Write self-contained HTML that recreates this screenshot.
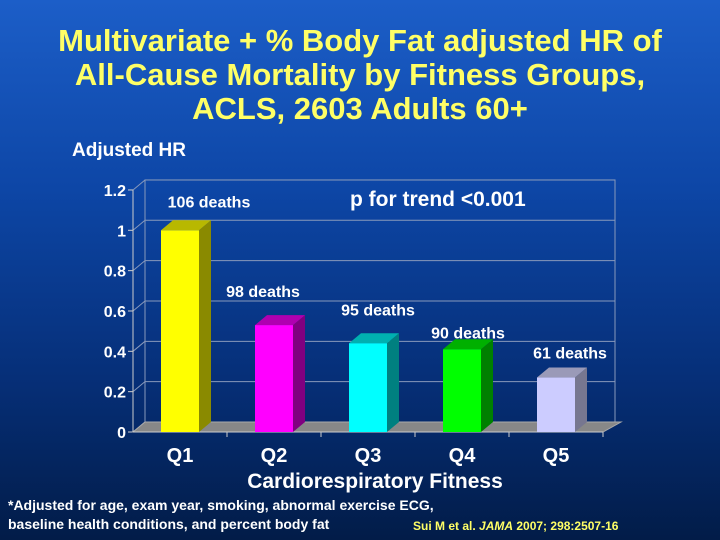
<!DOCTYPE html>
<html><head><meta charset="utf-8"><style>
html,body{margin:0;padding:0}
body{width:720px;height:540px;overflow:hidden;background:linear-gradient(to bottom,#1c5ec8 0%,#0d46a6 35%,#062f78 70%,#021c48 100%);font-family:"Liberation Sans",sans-serif;position:relative}
.t{position:absolute;left:0;width:720px;text-align:center;color:#ffff66;font-weight:bold;font-size:31px;line-height:34px;top:24px}
</style></head><body>
<div class="t">Multivariate + % Body Fat adjusted HR of<br>All-Cause Mortality by Fitness Groups,<br>ACLS, 2603 Adults 60+</div>
<svg width="720" height="540" style="position:absolute;left:0;top:0">
<g id="g"></g>
<text x="72" y="156" fill="#fff" font-size="19" font-weight="bold" font-family="Liberation Sans">Adjusted HR</text>
<text x="350" y="206" fill="#fff" font-size="21" font-weight="bold" font-family="Liberation Sans">p for trend &lt;0.001</text>
<text x="375" y="488" fill="#fff" font-size="21" font-weight="bold" text-anchor="middle" font-family="Liberation Sans">Cardiorespiratory Fitness</text>
<text x="8" y="510" fill="#fff" font-size="14" font-weight="bold" font-family="Liberation Sans">*Adjusted for age, exam year, smoking, abnormal exercise ECG,</text>
<text x="8" y="529" fill="#fff" font-size="14" font-weight="bold" font-family="Liberation Sans">baseline health conditions,  and percent body fat</text>
<text x="413" y="530" fill="#ffff66" font-size="12" font-weight="bold" font-family="Liberation Sans">Sui M et al.  <tspan font-style="italic">JAMA</tspan> 2007; 298:2507-16</text>
</svg>
<script>
const categories=["Q1","Q2","Q3","Q4","Q5"];
const values=[1.0,0.53,0.44,0.41,0.27];
const deathLabels=["106 deaths","98 deaths","95 deaths","90 deaths","61 deaths"];
const ticks=[0,0.2,0.4,0.6,0.8,1,1.2];
const tickLabels=["0","0.2","0.4","0.6","0.8","1","1.2"];
const colors=[["#ffff00","#b8b800","#8a8a00"],["#ff00ff","#b000b0","#800080"],["#00ffff","#00b0b0","#008080"],["#00ff00","#00b000","#008000"],["#ccccff","#9a9ab8","#777790"]];
// layout: label offsets from bar centre / top (pixels)
const labelDX=[29,-11,10,6,14], labelDY=[-29,-34,-34,-17,-25];
const NS="http://www.w3.org/2000/svg",g=document.getElementById('g');
const x0=133,x1=603,y0=432,ppu=201.7,dx=12,dy=10;
const y=v=>y0-v*ppu, band=(x1-x0)/categories.length, cx=i=>x0+band*(i+0.5);
function el(t,a){const e=document.createElementNS(NS,t);for(const k in a)e.setAttribute(k,a[k]);g.appendChild(e);return e;}
let w=el('rect',{x:x0+dx,y:y(1.2)-dy,width:x1-x0,height:1.2*ppu,fill:"none",stroke:"#8899bb","stroke-width":1});

ticks.forEach((t,i)=>{
 let l=el('line',{x1:x0+dx,x2:x1+dx,y1:y(t)-dy,y2:y(t)-dy,stroke:"#8899bb","stroke-width":1});
 
 let d=el('line',{x1:x0,x2:x0+dx,y1:y(t),y2:y(t)-dy,stroke:"#8899bb","stroke-width":1});
 
 let tk=el('line',{x1:x0-5,x2:x0,y1:y(t),y2:y(t),stroke:"#ccc"});
 
 let tx=el('text',{x:x0-7,y:y(t)+6,fill:"#fff","font-size":16,"font-weight":"bold","text-anchor":"end","font-family":"Liberation Sans"});
 tx.textContent=tickLabels[i];
});
let fl=el('polygon',{points:`${x0},${y0} ${x1},${y0} ${x1+dx+6},${y0-dy} ${x0+dx},${y0-dy}`,fill:"#888",stroke:"#aaa"});

let ya=el('line',{x1:x0,x2:x0,y1:y(1.2),y2:y0,stroke:"#ccc"});
let xa=el('line',{x1:x0,x2:x1,y1:y0,y2:y0,stroke:"#ccc"});
categories.forEach((c,i)=>{
 const bw=38,bx=cx(i)-bw/2,by=y(values[i]);
 let s=el('polygon',{points:`${bx+bw},${by} ${bx+bw+dx},${by-dy} ${bx+bw+dx},${y0-dy} ${bx+bw},${y0}`,fill:colors[i][2]});
 
 let tp=el('polygon',{points:`${bx},${by} ${bx+dx},${by-dy} ${bx+bw+dx},${by-dy} ${bx+bw},${by}`,fill:colors[i][1]});
 
 let r=el('rect',{x:bx,y:by,width:bw,height:y0-by,fill:colors[i][0]});
 
 let tk=el('line',{x1:x0+band*(i+1),x2:x0+band*(i+1),y1:y0,y2:y0+5,stroke:"#ccc"});
 
 let lx=el('text',{x:cx(i),y:y0+30,fill:"#fff","font-size":20,"font-weight":"bold","text-anchor":"middle","font-family":"Liberation Sans"});
 lx.textContent=c;
 let dl=el('text',{x:cx(i)+labelDX[i],y:by+labelDY[i]+6,fill:"#fff","font-size":16,"font-weight":"bold","text-anchor":"middle","font-family":"Liberation Sans"});
 dl.textContent=deathLabels[i];
});
</script>
</body></html>
